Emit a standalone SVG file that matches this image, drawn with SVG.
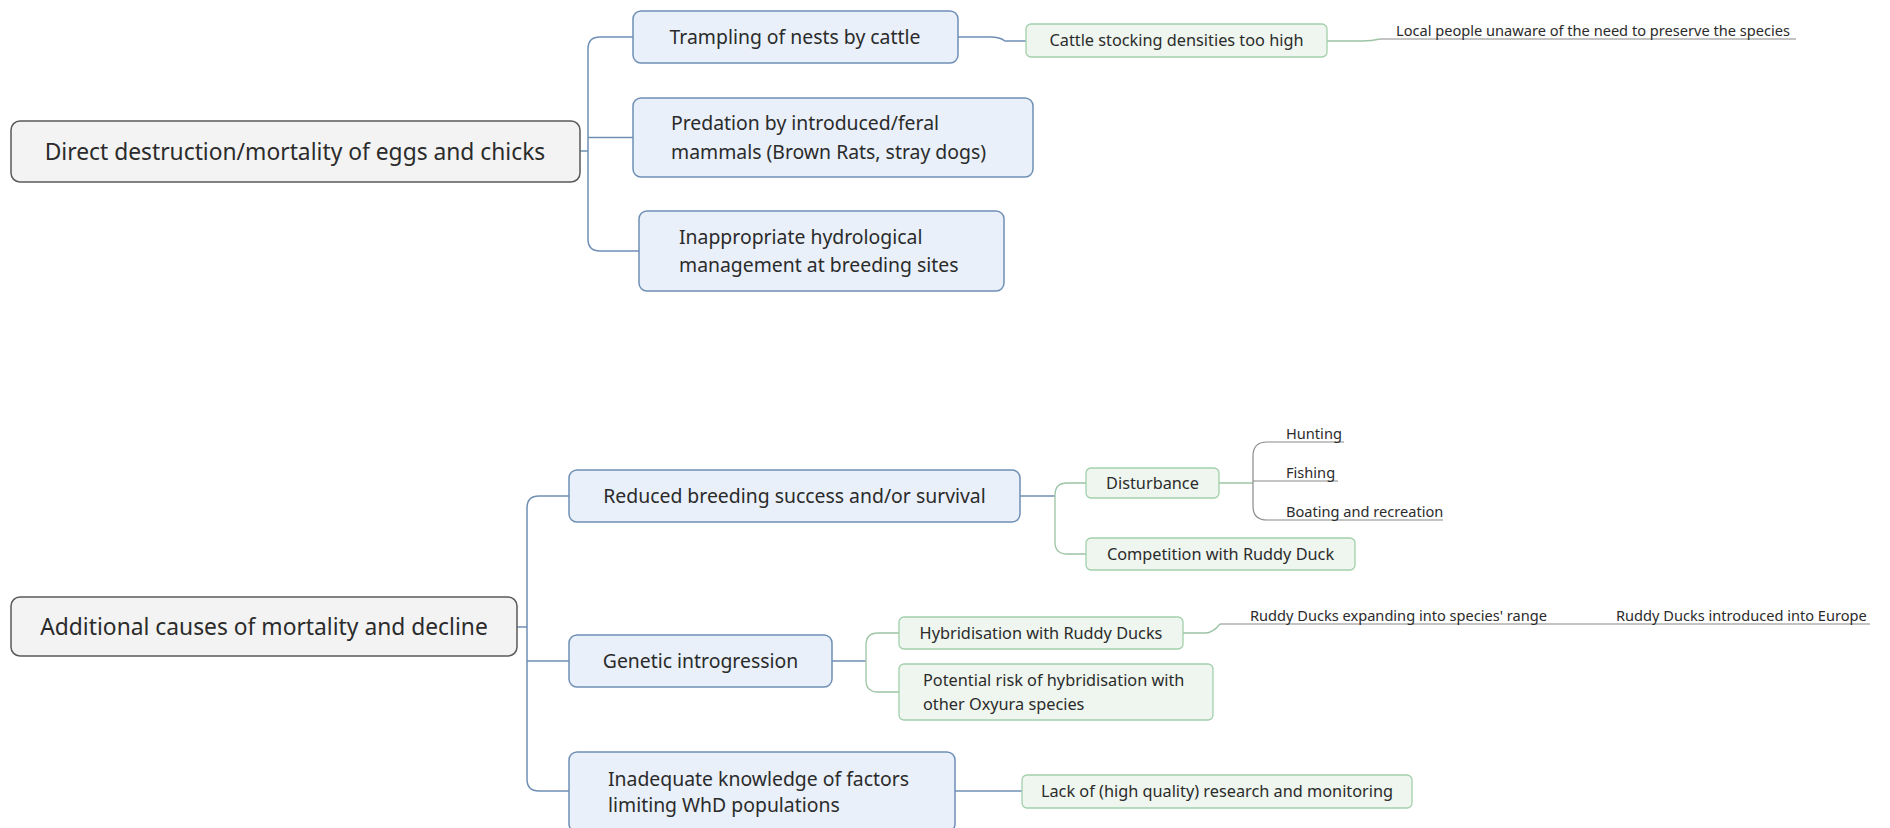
<svg xmlns="http://www.w3.org/2000/svg" width="1890" height="828" viewBox="0 0 1890 828">
<style>
.bg{fill:#ffffff}
.root{fill:#f3f3f3;stroke:#5a5a5a;stroke-width:1.5}
.main{fill:#e9f0fa;stroke:#6f8fb5;stroke-width:1.5}
.sub{fill:#eef6ef;stroke:#a3cfab;stroke-width:1.3}
.t{font-family:"Noto Sans","Open Sans","DejaVu Sans",sans-serif;fill:#2b2b2b}
.tr{font-size:22.8px}
.tm{font-size:19.4px}
.ts{font-size:16.3px}
.tl{font-size:14.6px}
.cm{fill:none;stroke:#6f8fb5;stroke-width:1.5}
.cs{fill:none;stroke:#9cc4a5;stroke-width:1.3}
.cl{fill:none;stroke:#8a8a8a;stroke-width:1.2}
</style>
<rect class="bg" x="0" y="0" width="1890" height="828"/>
<g id="connectors">
  <path class="cm" d="M580,151 H588"/>
  <path class="cm" d="M633,37 H600 Q588,37 588,49 V239 Q588,251 600,251 H639"/>
  <path class="cm" d="M588,137.5 H633"/>
  <path class="cm" d="M958,37 H990 Q1000,37 1005,41 H1026"/>
  <path class="cs" d="M1327,41 H1362 Q1372,41 1380,39"/>
  <path class="cl" d="M1380,39 H1796"/>
  <path class="cm" d="M517,627 H527"/>
  <path class="cm" d="M569,496 H539 Q527,496 527,508 V779 Q527,791 539,791 H569"/>
  <path class="cm" d="M527,661 H569"/>
  <path class="cm" d="M1020,496 H1055"/>
  <path class="cs" d="M1086,483 H1067 Q1055,483 1055,495 V542 Q1055,554 1067,554 H1086"/>
  <path class="cs" d="M1219,483 H1253"/>
  <path class="cl" d="M1344,442 H1267 Q1253,442 1253,456 V506 Q1253,520 1267,520 H1443"/>
  <path class="cl" d="M1253,481 H1338"/>
  <path class="cm" d="M832,661 H866"/>
  <path class="cs" d="M899,633 H878 Q866,633 866,645 V680 Q866,692 878,692 H899"/>
  <path class="cs" d="M1183,633 H1205 Q1213,633 1220,624"/>
  <path class="cl" d="M1220,624 H1870"/>
  <path class="cm" d="M955,791 H1022"/>
</g>
<g id="root1">
  <rect class="root" x="11" y="121" width="569" height="61" rx="9"/>
  <text class="t tr" x="295" y="159.5" text-anchor="middle">Direct destruction/mortality of eggs and chicks</text>
</g>
<g id="trampling">
  <rect class="main" x="633" y="11" width="325" height="52" rx="8"/>
  <text class="t tm" x="795" y="43.5" text-anchor="middle">Trampling of nests by cattle</text>
</g>
<g id="predation">
  <rect class="main" x="633" y="98" width="400" height="79" rx="8"/>
  <text class="t tm" x="671" y="129.5">Predation by introduced/feral</text>
  <text class="t tm" x="671" y="158.5">mammals (Brown Rats, stray dogs)</text>
</g>
<g id="hydrological">
  <rect class="main" x="639" y="211" width="365" height="80" rx="8"/>
  <text class="t tm" x="679" y="243.5">Inappropriate hydrological</text>
  <text class="t tm" x="679" y="271.5">management at breeding sites</text>
</g>
<g id="cattle">
  <rect class="sub" x="1026" y="24" width="301" height="33" rx="5"/>
  <text class="t ts" x="1176.5" y="46" text-anchor="middle">Cattle stocking densities too high</text>
</g>
<g id="localpeople">
  <text class="t tl" x="1396" y="35.5">Local people unaware of the need to preserve the species</text>
</g>
<g id="root2">
  <rect class="root" x="11" y="597" width="506" height="59" rx="9"/>
  <text class="t tr" x="264" y="634.5" text-anchor="middle">Additional causes of mortality and decline</text>
</g>
<g id="reduced">
  <rect class="main" x="569" y="470" width="451" height="52" rx="8"/>
  <text class="t tm" x="794.5" y="502.5" text-anchor="middle">Reduced breeding success and/or survival</text>
</g>
<g id="genetic">
  <rect class="main" x="569" y="635" width="263" height="52" rx="8"/>
  <text class="t tm" x="700.5" y="667.5" text-anchor="middle">Genetic introgression</text>
</g>
<g id="inadequate">
  <rect class="main" x="569" y="752" width="386" height="80" rx="8"/>
  <text class="t tm" x="608" y="785.5">Inadequate knowledge of factors</text>
  <text class="t tm" x="608" y="811.5">limiting WhD populations</text>
</g>
<g id="disturbance">
  <rect class="sub" x="1086" y="468" width="133" height="30" rx="5"/>
  <text class="t ts" x="1152.5" y="488.5" text-anchor="middle">Disturbance</text>
</g>
<g id="competition">
  <rect class="sub" x="1086" y="538" width="269" height="32" rx="5"/>
  <text class="t ts" x="1220.5" y="559.5" text-anchor="middle">Competition with Ruddy Duck</text>
</g>
<g id="hunting">
  <text class="t tl" x="1286" y="438.5">Hunting</text>
</g>
<g id="fishing">
  <text class="t tl" x="1286" y="477.5">Fishing</text>
</g>
<g id="boating">
  <text class="t tl" x="1286" y="516.5">Boating and recreation</text>
</g>
<g id="hybridisation">
  <rect class="sub" x="899" y="617" width="284" height="32" rx="5"/>
  <text class="t ts" x="1041" y="638.5" text-anchor="middle">Hybridisation with Ruddy Ducks</text>
</g>
<g id="potential">
  <rect class="sub" x="899" y="664" width="314" height="56" rx="5"/>
  <text class="t ts" x="923" y="686">Potential risk of hybridisation with</text>
  <text class="t ts" x="923" y="710">other Oxyura species</text>
</g>
<g id="expanding">
  <text class="t tl" x="1250" y="620.5">Ruddy Ducks expanding into species' range</text>
</g>
<g id="introduced">
  <text class="t tl" x="1616" y="620.5">Ruddy Ducks introduced into Europe</text>
</g>
<g id="lack">
  <rect class="sub" x="1022" y="775" width="390" height="33" rx="5"/>
  <text class="t ts" x="1217" y="796.5" text-anchor="middle">Lack of (high quality) research and monitoring</text>
</g>
</svg>
